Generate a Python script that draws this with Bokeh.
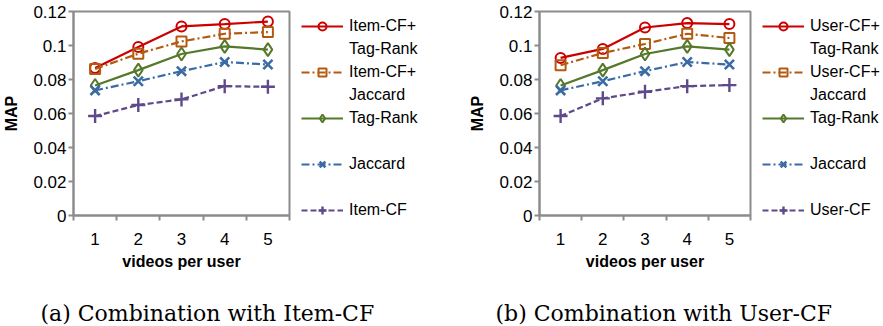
from bokeh.plotting import figure
from bokeh.layouts import row, column
from bokeh.models import (Legend, LegendItem, FixedTicker, NumeralTickFormatter,
                          Range1d, Title, Spacer)
from bokeh.embed import file_html
from bokeh.resources import INLINE

# ---------------- data ----------------
videos_per_user = [1, 2, 3, 4, 5]
y_ticks = [0, 0.02, 0.04, 0.06, 0.08, 0.1, 0.12]

# (a) Combination with Item-CF
item_cf_tag_rank = [0.0868, 0.0991, 0.1112, 0.1126, 0.1141]
item_cf_jaccard = [0.0862, 0.0952, 0.1024, 0.1069, 0.1079]
tag_rank = [0.0765, 0.0855, 0.0950, 0.0995, 0.0976]
jaccard = [0.0736, 0.0790, 0.0849, 0.0903, 0.0888]
item_cf = [0.0585, 0.0650, 0.0683, 0.0761, 0.0757]

# (b) Combination with User-CF
user_cf_tag_rank = [0.0927, 0.0980, 0.1106, 0.1132, 0.1126]
user_cf_jaccard = [0.0884, 0.0956, 0.1009, 0.1069, 0.1044]
user_cf = [0.0585, 0.0689, 0.0728, 0.0761, 0.0767]

labels_a = [["Item-CF+", "Tag-Rank"], ["Item-CF+", "Jaccard"], ["Tag-Rank", " "],
            ["Jaccard", " "], ["Item-CF"]]
labels_b = [["User-CF+", "Tag-Rank"], ["User-CF+", "Jaccard"], ["Tag-Rank", " "],
            ["Jaccard", " "], ["User-CF"]]

caption_a = "(a) Combination with Item-CF"
caption_b = "(b) Combination with User-CF"

# ---------------- styles ----------------
styles = [
    dict(color="#CC0000", dash="solid", marker="circle", size=10, lw=2),
    dict(color="#B45A10", dash="8 3 2 3", marker="square", size=10, lw=2),
    dict(color="#56782A", dash="solid", marker="diamond", size=13, lw=2),
    dict(color="#3A6BA5", dash="8 3 2 3", marker="x", size=13, lw=2.6),
    dict(color="#5E4A8A", dash="6 3", marker="cross", size=14, lw=2.4),
]
GRAY = "#8c8c8c"
SANS = "Liberation Sans"

TOP_H = 273          # chart + legend strip height
CAP_H = 53           # caption strip height
BORDER_TOP = 11
BORDER_BOTTOM = 58
BORDER_RIGHT = 4
LEG_TOP = 8


def make_chart(series, frame_w, border_left):
    p = figure(width=border_left + frame_w + BORDER_RIGHT, height=TOP_H,
               x_range=Range1d(0.5, 5.5), y_range=Range1d(0, 0.12),
               output_backend="svg", toolbar_location=None,
               min_border_left=border_left, min_border_right=BORDER_RIGHT,
               min_border_top=BORDER_TOP, min_border_bottom=BORDER_BOTTOM)
    p.background_fill_color = "white"
    p.border_fill_color = "white"
    p.outline_line_color = GRAY
    p.outline_line_width = 2
    p.xgrid.visible = False
    p.ygrid.visible = False

    minor = [x - 0.5 for x in videos_per_user] + [videos_per_user[-1] + 0.5]
    p.xaxis.ticker = FixedTicker(ticks=videos_per_user, minor_ticks=minor)
    p.xaxis.major_tick_out = 0
    p.xaxis.major_tick_in = 0
    p.xaxis.minor_tick_out = 5
    p.xaxis.minor_tick_in = 0
    p.xaxis.minor_tick_line_color = GRAY
    p.xaxis.minor_tick_line_width = 2
    p.xaxis.major_label_standoff = 12
    p.xaxis.axis_label = "videos per user"
    p.xaxis.axis_label_standoff = 5

    p.yaxis.ticker = FixedTicker(ticks=y_ticks)
    p.yaxis.formatter = NumeralTickFormatter(format="0.[00]")
    p.yaxis.major_tick_out = 5
    p.yaxis.major_tick_in = 0
    p.yaxis.minor_tick_line_color = None
    p.yaxis.major_tick_line_color = GRAY
    p.yaxis.major_tick_line_width = 2
    p.yaxis.major_label_standoff = 2
    p.yaxis.axis_label = "MAP"
    p.yaxis.axis_label_standoff = 10

    for ax in (p.xaxis, p.yaxis):
        ax.axis_line_color = GRAY
        ax.axis_line_width = 2
        ax.major_label_text_font = SANS
        ax.major_label_text_font_size = "17px"
        ax.major_label_text_color = "black"
        ax.axis_label_text_font = SANS
        ax.axis_label_text_font_size = "16px"
        ax.axis_label_text_font_style = "bold"
        ax.axis_label_text_color = "black"

    for ys, st in zip(series, styles):
        p.line(videos_per_user, ys, line_color=st["color"], line_width=2.2,
               line_dash=st["dash"])
        p.scatter(videos_per_user, ys, marker=st["marker"], size=st["size"],
                  line_color=st["color"], line_width=st["lw"], fill_color=None)
    return p


def make_legend(series, labels, width):
    # the series are drawn outside this figure's visible ranges; only the legend shows
    lf = figure(width=width, height=TOP_H - LEG_TOP,
                x_range=Range1d(-10, -9), y_range=Range1d(-10, -9),
                output_backend="svg", toolbar_location=None,
                x_axis_location=None, y_axis_location=None,
                min_border_left=0, min_border_right=0,
                min_border_top=0, min_border_bottom=0)
    lf.outline_line_color = None
    lf.xgrid.visible = False
    lf.ygrid.visible = False
    blank = lf.line(x=[], y=[], line_alpha=0)
    items = []
    for ys, lab, st in zip(series, labels, styles):
        ln = lf.line(videos_per_user, ys, line_color=st["color"], line_width=2.2,
                     line_dash=st["dash"])
        sc = lf.scatter(videos_per_user, ys, marker=st["marker"], line_color=st["color"],
                        line_width=st["lw"], fill_color=None)
        items.append(LegendItem(label=lab[0], renderers=[ln, sc]))
        for extra in lab[1:]:
            items.append(LegendItem(label=extra, renderers=[blank]))
    legend = Legend(items=items, location="top_left")
    legend.glyph_width = 42
    legend.glyph_height = 20
    legend.label_height = 20
    legend.spacing = 3
    legend.padding = 0
    legend.margin = 8
    legend.label_standoff = 6
    legend.label_text_font = SANS
    legend.label_text_font_size = "16px"
    legend.label_text_color = "black"
    legend.border_line_color = None
    legend.background_fill_alpha = 0
    lf.add_layout(legend)
    return column(Spacer(width=width, height=LEG_TOP), lf, spacing=0)


def make_caption(text, width, offset):
    cf = figure(width=width, height=CAP_H, x_range=Range1d(0, 1), y_range=Range1d(0, 1),
                output_backend="svg", toolbar_location=None,
                x_axis_location=None, y_axis_location=None,
                min_border_left=0, min_border_right=0,
                min_border_top=0, min_border_bottom=4)
    cf.outline_line_color = None
    cf.xgrid.visible = False
    cf.ygrid.visible = False
    t = Title(text=text, align="left", offset=offset,
              text_font="DejaVu Serif", text_font_size="22px",
              text_font_style="normal", text_color="black", standoff=2)
    cf.add_layout(t, "below")
    return cf


series_a = [item_cf_tag_rank, item_cf_jaccard, tag_rank, jaccard, item_cf]
series_b = [user_cf_tag_rank, user_cf_jaccard, tag_rank, jaccard, user_cf]

W_A, W_B = 466, 417
chart_a = make_chart(series_a, 216, 73)
chart_b = make_chart(series_b, 215, 69)
leg_a = make_legend(series_a, labels_a, W_A - chart_a.width)
leg_b = make_legend(series_b, labels_b, W_B - chart_b.width)
cap_a = make_caption(caption_a, W_A, 40)
cap_b = make_caption(caption_b, W_B, 29)

panel_a = column(row(chart_a, leg_a, spacing=0), cap_a, spacing=0)
panel_b = column(row(chart_b, leg_b, spacing=0), cap_b, spacing=0)
layout = row(panel_a, panel_b, spacing=0)
open("out.html", "w").write(file_html(layout, INLINE))
